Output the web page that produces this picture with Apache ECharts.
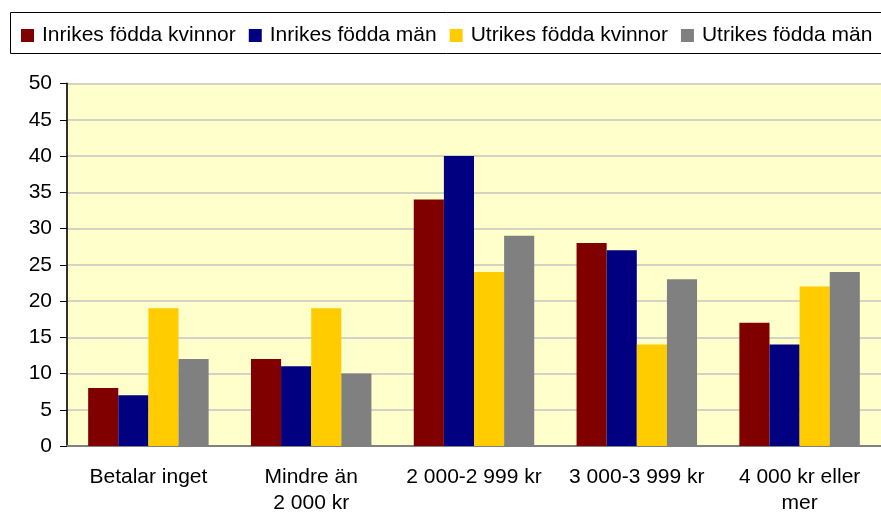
<!DOCTYPE html>
<html>
<head>
<meta charset="utf-8">
<script src="https://cdn.jsdelivr.net/npm/echarts@6/dist/echarts.min.js"></script>
<style>
html,body{margin:0;padding:0;background:#fff;}
#chart{width:881px;height:516px;}
</style>
</head>
<body>
<div id="chart"></div>
<script>
var categories = ['Betalar inget', 'Mindre än\n2 000 kr', '2 000-2 999 kr', '3 000-3 999 kr', '4 000 kr eller\nmer'];
var seriesNames = ['Inrikes födda kvinnor', 'Inrikes födda män', 'Utrikes födda kvinnor', 'Utrikes födda män'];
var inrikesKvinnor = [8, 12, 34, 28, 17];
var inrikesMan = [7, 11, 40, 27, 14];
var utrikesKvinnor = [19, 19, 24, 14, 22];
var utrikesMan = [12, 10, 29, 23, 24];
var yTicks = [0, 5, 10, 15, 20, 25, 30, 35, 40, 45, 50];
var colors = ['#800000', '#000080', '#FFCC00', '#808080'];

var values = [inrikesKvinnor, inrikesMan, utrikesKvinnor, utrikesMan];
var font = '"Liberation Sans", Arial, sans-serif';

var chart = echarts.init(document.getElementById('chart'), null, {renderer: 'canvas'});
chart.setOption({
  animation: false,
  color: colors,
  textStyle: {fontFamily: font},
  graphic: [{
    type: 'rect',
    shape: {x: 10.5, y: 12.5, width: 900, height: 41},
    style: {fill: 'none', stroke: '#000', lineWidth: 1},
    z: 0
  }],
  legend: {
    left: 16,
    top: 20,
    itemWidth: 13,
    itemHeight: 13,
    itemGap: 13,
    icon: 'rect',
    data: seriesNames,
    textStyle: {fontSize: 21, color: '#000', fontFamily: font, padding: [0, 0, 0, 3]}
  },
  grid: {
    left: 67, right: 0, top: 83.5, bottom: 70,
    show: true, backgroundColor: '#FFFFCC', borderWidth: 0
  },
  xAxis: {
    type: 'category',
    data: categories,
    axisLine: {show: true, lineStyle: {color: '#808080', width: 2}},
    axisTick: {show: false},
    axisLabel: {interval: 0, fontSize: 21, lineHeight: 26, color: '#000', margin: 18, fontFamily: font},
    splitLine: {show: false}
  },
  yAxis: {
    type: 'value',
    min: yTicks[0],
    max: yTicks[yTicks.length - 1],
    interval: 5,
    axisLine: {show: true, lineStyle: {color: '#303030', width: 2}},
    axisTick: {show: true, length: 7, lineStyle: {color: '#000', width: 1}},
    axisLabel: {fontSize: 21, color: '#000', margin: 15, fontFamily: font},
    splitLine: {show: true, lineStyle: {color: '#C4C4C4', width: 1.5}}
  },
  series: seriesNames.map(function (n, i) {
    return {
      name: n,
      type: 'bar',
      data: values[i],
      barGap: '0%',
      barCategoryGap: '26%',
      itemStyle: {color: colors[i]}
    };
  })
});
</script>
</body>
</html>
